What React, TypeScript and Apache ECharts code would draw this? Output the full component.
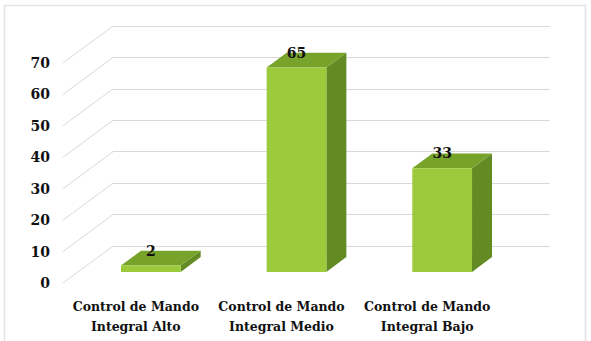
import React, { useEffect, useRef } from "react";
import * as echarts from "echarts";

// Data
const categories = [
  "Control de Mando\nIntegral Alto",
  "Control de Mando\nIntegral Medio",
  "Control de Mando\nIntegral Bajo",
];
const values = [2, 65, 33];
const yTicks = [0, 10, 20, 30, 40, 50, 60, 70];

// Layout of the pseudo-3D plot: front plane plus a receding depth offset
const W = 591;
const H = 341;
const FRONT = { left: 63, right: 91, top: 63, bottom: 58 };
const DEPTH_X = 50;
const DEPTH_Y = 37;
const BAR_FRONT = 0.3; // bar starts at 30% of the floor depth
const BAR_DEPTH = 0.4; // and takes 40% of it
const BAR_WIDTH = 0.41; // fraction of a category band

const FONT = "DejaVu Serif";
const FONT_SIZE = 14;
const CAT_FONT_SIZE = 12.5;
const GRID_COLOR = "#d9d9d9";
const FACE_FRONT = "#9bcb3a";
const FACE_TOP = "#78a32b";
const FACE_SIDE = "#628b24";

export default function App() {
  const ref = useRef<HTMLDivElement>(null);

  useEffect(() => {
    if (!ref.current) return;
    const chart = echarts.init(ref.current, null, { renderer: "svg" });

    const back = {
      left: FRONT.left + DEPTH_X,
      right: FRONT.right - DEPTH_X,
      top: FRONT.top - DEPTH_Y,
      bottom: FRONT.bottom + DEPTH_Y,
    };

    const option: echarts.EChartsOption = {
      animation: false,
      backgroundColor: "#ffffff",
      textStyle: { fontFamily: FONT },
      graphic: [
        {
          type: "rect",
          shape: { x: 4.5, y: 5.5, width: 581, height: 345 },
          style: { fill: "none", stroke: "#e4e4e4", lineWidth: 1.6 },
          silent: true,
          z: -1,
        },
      ],
      grid: [
        { ...back, containLabel: false },
        { ...FRONT, containLabel: false },
      ],
      xAxis: [
        {
          gridIndex: 0,
          type: "category",
          data: categories,
          show: false,
        },
        {
          gridIndex: 1,
          type: "category",
          data: categories,
          axisLine: { show: false },
          axisTick: { show: false },
          splitLine: { show: false },
          axisLabel: {
            interval: 0,
            margin: 13,
            color: "#111",
            fontFamily: FONT,
            fontWeight: "bold",
            fontSize: CAT_FONT_SIZE,
            lineHeight: 20,
          },
        },
      ],
      yAxis: [
        {
          gridIndex: 0,
          type: "value",
          min: 0,
          max: 70,
          interval: 10,
          axisLine: { show: false },
          axisTick: { show: false },
          axisLabel: { show: false },
          splitLine: { show: true, lineStyle: { color: GRID_COLOR, width: 1 } },
        },
        {
          gridIndex: 1,
          type: "value",
          min: 0,
          max: 70,
          interval: 10,
          axisLine: { show: false },
          axisTick: { show: false },
          splitLine: { show: false },
          axisLabel: {
            margin: 13,
            color: "#111",
            fontFamily: FONT,
            fontWeight: "bold",
            fontSize: FONT_SIZE,
          },
        },
      ],
      series: [
        {
          // diagonal floor/side-wall lines joining each front tick to the back wall
          type: "custom",
          xAxisIndex: 1,
          yAxisIndex: 1,
          data: yTicks.map((t) => [0, t]),
          silent: true,
          renderItem: (params: any, api: any) => {
            const p = api.coord([0, api.value(1)]);
            const x0 = params.coordSys.x;
            return {
              type: "line",
              shape: { x1: x0, y1: p[1], x2: x0 + DEPTH_X, y2: p[1] - DEPTH_Y },
              style: { stroke: GRID_COLOR, lineWidth: 1 },
            };
          },
          z: 1,
        },
        {
          type: "custom",
          xAxisIndex: 1,
          yAxisIndex: 1,
          data: values.map((v, i) => [i, v]),
          renderItem: (_params: any, api: any) => {
            const i = api.value(0);
            const v = api.value(1);
            const top = api.coord([i, v]);
            const base = api.coord([i, 0]);
            const band = api.size([1, 0])[0];
            const w = band * BAR_WIDTH;
            const ox = DEPTH_X * BAR_FRONT;
            const oy = -DEPTH_Y * BAR_FRONT;
            const dx = DEPTH_X * BAR_DEPTH;
            const dy = DEPTH_Y * BAR_DEPTH;
            const fl = top[0] - w / 2 + ox;
            const fr = fl + w;
            const ft = top[1] + oy;
            const fb = base[1] + oy;
            return {
              type: "group",
              children: [
                {
                  type: "polygon",
                  shape: {
                    points: [
                      [fr, ft],
                      [fr + dx, ft - dy],
                      [fr + dx, fb - dy],
                      [fr, fb],
                    ],
                  },
                  style: { fill: FACE_SIDE },
                },
                {
                  type: "polygon",
                  shape: {
                    points: [
                      [fl, ft],
                      [fr, ft],
                      [fr + dx, ft - dy],
                      [fl + dx, ft - dy],
                    ],
                  },
                  style: { fill: FACE_TOP },
                },
                {
                  type: "rect",
                  shape: { x: fl, y: ft, width: w, height: fb - ft },
                  style: { fill: FACE_FRONT },
                },
                {
                  type: "text",
                  x: (fl + fr) / 2,
                  y: ft - dy,
                  style: {
                    text: String(v),
                    fill: "#111",
                    fontFamily: FONT,
                    fontWeight: "bold",
                    fontSize: FONT_SIZE,
                    align: "center",
                    verticalAlign: "middle",
                  },
                },
              ],
            };
          },
          z: 2,
        },
      ],
    };

    chart.setOption(option);
    return () => chart.dispose();
  }, []);

  return (
    <div
      ref={ref}
      style={{ position: "fixed", left: 0, top: 0, width: W, height: H }}
    />
  );
}
